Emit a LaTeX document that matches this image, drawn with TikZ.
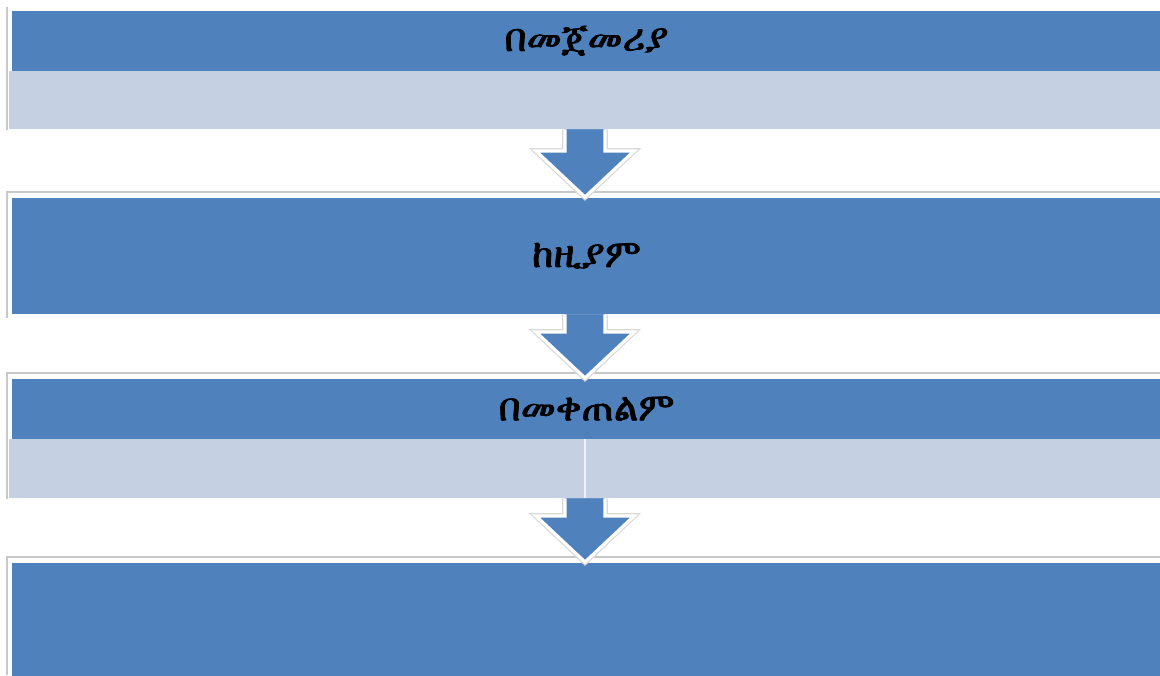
\documentclass[tikz,border=0pt]{standalone}
\usepackage{fontspec}
\IfFontExistsTF{FreeSerif.otf}{%
  \newfontfamily\ethfont{FreeSerif.otf}[FakeBold=2]}{%
  \IfFontExistsTF{FreeSerif}{\newfontfamily\ethfont{FreeSerif}[FakeBold=2]}{%
  \newfontfamily\ethfont{DejaVu Sans}[FakeBold=2]}}
\usetikzlibrary{calc}
\definecolor{dkblue}{RGB}{79,129,189}
\definecolor{ltblue}{RGB}{197,209,227}
\definecolor{frame}{RGB}{200,200,200}
\tikzset{
  darkbox/.style={fill=dkblue, draw=none, anchor=north west, minimum width=11.49cm, inner sep=0pt,
     font=\ethfont\fontsize{11}{13}\selectfont, text=black},
  lightbox/.style={fill=ltblue, draw=none, anchor=north west, minimum width=11.52cm, inner sep=0pt},
  frameline/.style={draw=frame, line width=0.5pt},
  arrowglow/.style={draw=gray!30, line width=1.6pt, line join=miter},
  arrowbody/.style={fill=dkblue, draw=white, line width=0.9pt, line join=miter}
}
\newcommand\blockarrow[2]{%
  \draw[arrowglow] ($(#1)+(-20,0)$) -- ($(#2)+(-20,-46)$) -- ($(#2)+(-49,-46)$) -- (#2) -- ($(#2)+(49,-46)$) -- ($(#2)+(20,-46)$) -- ($(#1)+(20,0)$);
  \fill[dkblue] ($(#1)+(-20,0)$) -- ($(#2)+(-20,-46)$) -- ($(#2)+(-49,-46)$) -- (#2) -- ($(#2)+(49,-46)$) -- ($(#2)+(20,-46)$) -- ($(#1)+(20,0)$) -- cycle;
  \draw[arrowbody] ($(#1)+(-20,0)$) -- ($(#2)+(-20,-46)$) -- ($(#2)+(-49,-46)$) -- (#2) -- ($(#2)+(49,-46)$) -- ($(#2)+(20,-46)$) -- ($(#1)+(20,0)$);
}
\begin{document}
\begin{tikzpicture}[x=0.01cm,y=-0.01cm]
\useasboundingbox[fill=white] (0,0) rectangle (1160,675);
% frames
\draw[frameline] (7,7) -- (7,130);
\draw[frameline] (7,318) |- (1160,192);
\draw[frameline] (7,499) |- (1160,373);
\draw[frameline] (7,675) |- (1160,557);
% group 1
\node[lightbox, minimum height=0.58cm] (l1) at (8,70) {};
\node[darkbox, minimum height=0.60cm] (d1) at (11,10) {በመጀመሪያ};
% group 2
\node[darkbox, minimum height=1.16cm] (d2) at (11,197) {ከዚያም};
% group 3
\node[lightbox, minimum height=0.59cm] (l3) at (8,438) {};
\draw[white!70!ltblue, line width=0.8pt] (l3.north) ++(0,1) -- (l3.south);
\node[darkbox, minimum height=0.60cm] (d3) at (11,378) {በመቀጠልም};
% group 4
\node[darkbox, minimum height=1.13cm] (d4) at (11,562) {};
% arrows
\coordinate (a1e) at (585,190);
\coordinate (a2e) at (585,378);
\coordinate (a3e) at (585,561);
\blockarrow{l1.south -| a1e}{d2.north -| a1e}
\blockarrow{d2.south -| a2e}{d3.north -| a2e}
\blockarrow{l3.south -| a3e}{d4.north -| a3e}
\end{tikzpicture}
\end{document}
